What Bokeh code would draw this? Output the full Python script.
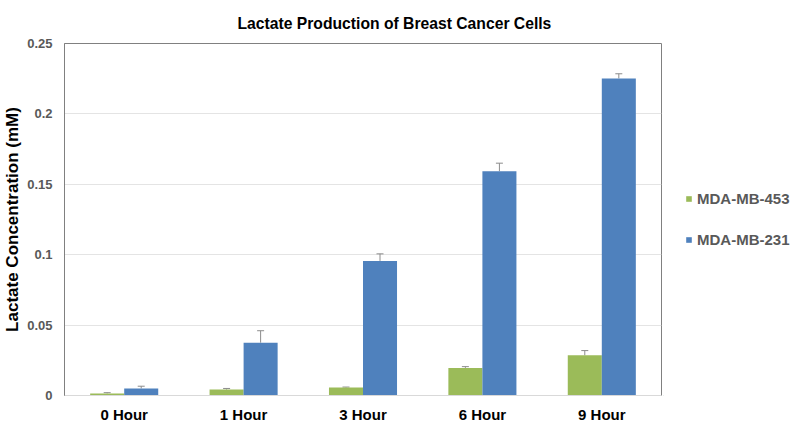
from bokeh.plotting import figure
from bokeh.layouts import row
from bokeh.models import (ColumnDataSource, FactorRange, Legend, LegendItem, Whisker,
                          TeeHead, FixedTicker, CustomJSTickFormatter, Range1d, Title)
from bokeh.transform import dodge
from bokeh.embed import file_html
from bokeh.resources import INLINE

hours = ["0 Hour", "1 Hour", "3 Hour", "6 Hour", "9 Hour"]
series_names = ["MDA-MB-453", "MDA-MB-231"]
mda453 = [0.0015, 0.0042, 0.0057, 0.0196, 0.0285]
mda453_err = [0.0005, 0.0008, 0.0003, 0.0009, 0.0034]
mda231 = [0.0050, 0.0375, 0.0956, 0.1593, 0.2252]
mda231_err = [0.0016, 0.0085, 0.0050, 0.0057, 0.0033]
y_ticks = [0, 0.05, 0.1, 0.15, 0.2, 0.25]

GREEN = "#9BBB59"
BLUE = "#4F81BD"
FONT = "Liberation Sans"

src = ColumnDataSource(dict(
    hour=hours,
    g=mda453, g_up=[v + e for v, e in zip(mda453, mda453_err)],
    b=mda231, b_up=[v + e for v, e in zip(mda231, mda231_err)],
))

p = figure(width=663, height=425, x_range=FactorRange(*hours), y_range=Range1d(0, 0.25),
           output_backend="svg", toolbar_location=None, title=None,
           min_border_left=64, min_border_right=2, min_border_top=43, min_border_bottom=29)
p.outline_line_color = "#808080"
p.outline_line_width = 1
p.background_fill_color = "white"
p.border_fill_color = "white"
p.x_range.range_padding = 0

w = 0.285
off = 0.1425
p.vbar(x=dodge("hour", -off, range=p.x_range), top="g", width=w, source=src,
       fill_color=GREEN, line_color=None)
p.vbar(x=dodge("hour", off, range=p.x_range), top="b", width=w, source=src,
       fill_color=BLUE, line_color=None)

for col, up, o in (("g", "g_up", -off), ("b", "b_up", off)):
    wh = Whisker(base=dodge("hour", o, range=p.x_range), lower=col, upper=up, source=src,
                 line_color="#8c8c8c", line_width=1, lower_head=None,
                 upper_head=TeeHead(size=7, line_color="#8c8c8c", line_width=1))
    p.add_layout(wh)

# grid
p.xgrid.grid_line_color = None
p.ygrid.ticker = FixedTicker(ticks=y_ticks)
p.ygrid.grid_line_color = "#e4e4e4"
p.ygrid.grid_line_width = 1

# y axis
ya = p.yaxis[0]
ya.ticker = FixedTicker(ticks=y_ticks)
ya.formatter = CustomJSTickFormatter(code="return Number(tick.toFixed(2)).toString();")
ya.axis_line_color = "#808080"
ya.major_tick_line_color = None
ya.minor_tick_line_color = None
ya.major_tick_out = 0
ya.major_tick_in = 0
ya.minor_tick_out = 0
ya.major_label_standoff = 12
ya.major_label_text_font = FONT
ya.major_label_text_font_style = "bold"
ya.major_label_text_font_size = "13px"
ya.major_label_text_color = "#595959"
ya.axis_label = "Lactate Concentration (mM)"
ya.axis_label_text_font = FONT
ya.axis_label_text_font_style = "bold"
ya.axis_label_text_font_size = "17px"
ya.axis_label_text_color = "#000000"
ya.axis_label_standoff = 2

# x axis
xa = p.xaxis[0]
xa.axis_line_color = "#d9d9d9"
xa.major_tick_line_color = None
xa.minor_tick_line_color = None
xa.major_tick_out = 0
xa.major_tick_in = 0
xa.minor_tick_out = 0
xa.major_label_standoff = 10
xa.major_label_text_font = FONT
xa.major_label_text_font_style = "bold"
xa.major_label_text_font_size = "15px"
xa.major_label_text_color = "#000000"

title = Title(text="Lactate Production of Breast Cancer Cells", align="left", offset=173,
              text_font=FONT, text_font_style="bold", text_font_size="15.7px",
              text_color="#000000", standoff=24)
p.add_layout(title, "above")

# legend panel (separate figure to the right of the plot box)
lg = figure(width=129, height=425, x_range=Range1d(0, 1), y_range=Range1d(0, 1),
            output_backend="svg", toolbar_location=None, title=None,
            min_border=0, min_border_left=0, min_border_right=0,
            min_border_top=0, min_border_bottom=0)
lg.axis.visible = False
lg.grid.visible = False
lg.outline_line_color = None
lg.background_fill_color = "white"
lg.border_fill_color = "white"
dummy = ColumnDataSource(dict(x=[-10], top=[-10]))
dg = lg.vbar(x="x", top="top", width=0.1, source=dummy, fill_color=GREEN, line_color=None)
db = lg.vbar(x="x", top="top", width=0.1, source=dummy, fill_color=BLUE, line_color=None)

legend = Legend(items=[LegendItem(label=series_names[0], renderers=[dg]),
                       LegendItem(label=series_names[1], renderers=[db])],
                location=(22, 146), orientation="vertical",
                glyph_width=7, glyph_height=7, label_standoff=5,
                label_text_font=FONT, label_text_font_style="bold",
                label_text_font_size="15px", label_text_color="#595959",
                label_height=20, spacing=21, margin=0, padding=10,
                border_line_color=None, background_fill_alpha=0)
lg.add_layout(legend, "center")

layout = row(p, lg, spacing=0)
open("out.html", "w").write(file_html(layout, INLINE))
